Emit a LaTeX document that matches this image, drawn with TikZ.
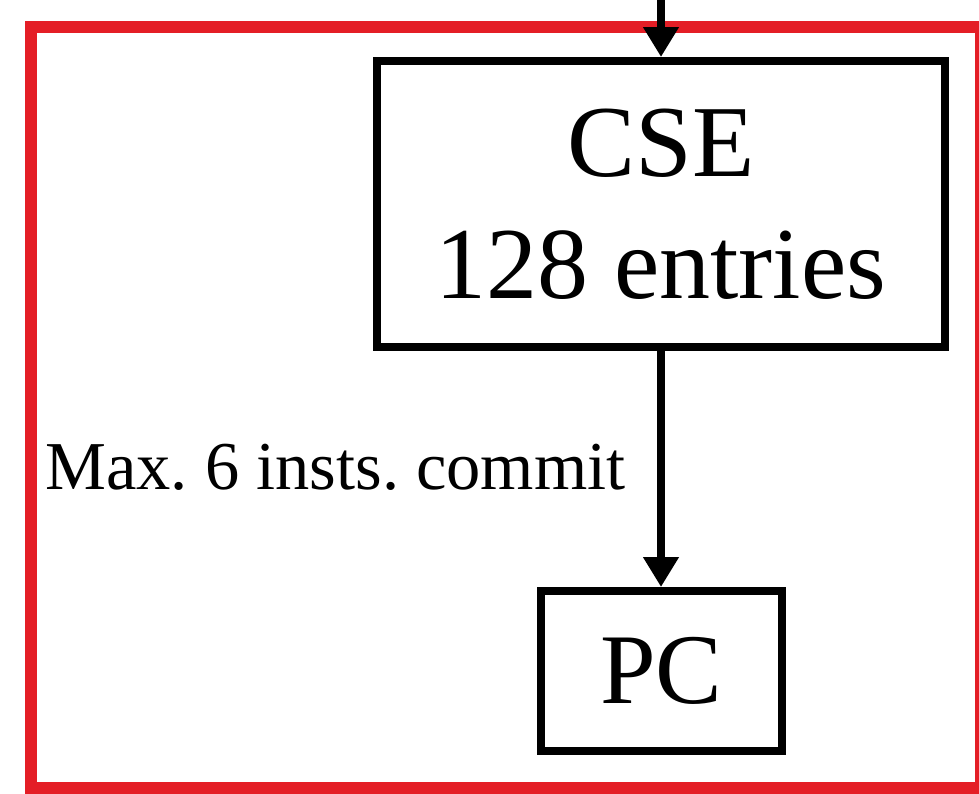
\documentclass[tikz,border=0pt]{standalone}
\usepackage{fontspec}
\setmainfont{Liberation Serif}
\usetikzlibrary{arrows.meta}
\definecolor{framered}{RGB}{228,30,38}
\frenchspacing
\begin{document}
\begin{tikzpicture}[x=1pt,y=-1pt,
  blockbox/.style={draw, line width=8pt, inner sep=0pt, align=center},
  flow/.style={line width=8pt, -{Triangle[width=34pt,length=30pt]}},
  redframe/.style={draw=framered, line width=12pt}]
\useasboundingbox (0,0) rectangle (979,793);
\clip (0,0) rectangle (979,793);

% enclosing red frame (runs past the right and bottom edges)
\draw[redframe] (31,27) rectangle (981,788);

% commit stage entries and program counter
\node[blockbox, minimum width=568pt, minimum height=286pt,
      font=\fontsize{102pt}{122pt}\selectfont] (cse) at (661,204)
      {CSE\\128 entries};
\node[blockbox, minimum width=241pt, minimum height=160pt,
      font=\fontsize{100pt}{120pt}\selectfont] (pc) at (661.5,671) {PC};

% incoming connector from above
\coordinate (feed) at (661,-10);
\draw[flow] (feed) -- (cse.north);

% commit path
\draw[flow] (cse.south) -- (pc.north -| cse.south);
\node[anchor=base west, inner sep=0pt, font=\fontsize{68.5pt}{80pt}\selectfont]
  (commit) at (45,489) {Max. 6 insts. commit};
\end{tikzpicture}
\end{document}
